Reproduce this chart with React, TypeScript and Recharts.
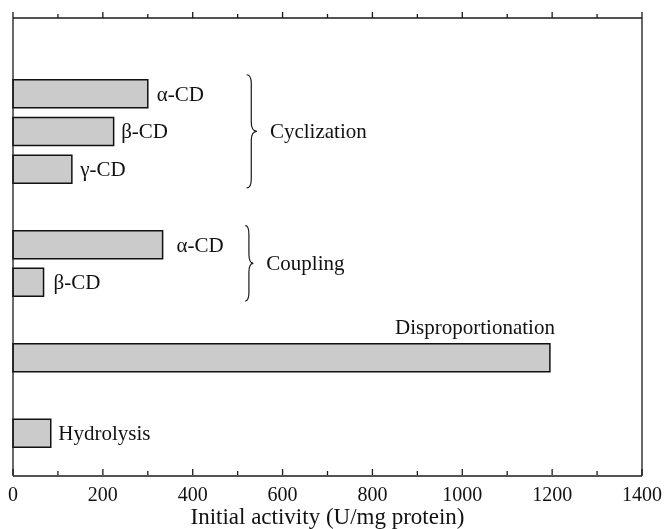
import React from 'react';
import { BarChart, Bar, XAxis, YAxis, LabelList, ReferenceArea, ReferenceLine } from 'recharts';

// ---- data ----
const categories = ['gap0', 'cyc-a', 'cyc-b', 'cyc-g', 'gap1', 'cpl-a', 'cpl-b', 'gap2', 'disp', 'gap3', 'hyd'];
const barLabels = ['', 'α-CD', 'β-CD', 'γ-CD', '', 'α-CD', 'β-CD', '', 'Disproportionation', '', 'Hydrolysis'];
const activity: (number | null)[] = [null, 300, 224, 131, null, 333, 68, null, 1195, null, 84];
const xTicks = [0, 100, 200, 300, 400, 500, 600, 700, 800, 900, 1000, 1100, 1200, 1300, 1400];
const groupNames = ['Cyclization', 'Coupling'];
const groupFrom = ['cyc-a', 'cpl-a'];
const groupTo = ['cyc-g', 'cpl-b'];
const xTitle = 'Initial activity (U/mg protein)';

// ---- styling (positions kept outside data) ----
const FONT = '"Liberation Serif", "Times New Roman", serif';
const FS = 21;
const TFS = 20;
const TITLE_FS = 23;
const INK = '#1a1a1a';
const labelDx: Record<string, number> = { 'cyc-a': 9, 'cyc-b': 7.5, 'cyc-g': 8.5, 'cpl-a': 14, 'cpl-b': 10, hyd: 7.5 };
const braceX1 = [520, 517];
const braceX2 = [543, 535];

const data = categories.map((c, i) => ({ cat: c, value: activity[i], label: barLabels[i] }));
const labelOf = (cat: string) => barLabels[categories.indexOf(cat)];

const BottomTick = (props: any) => {
  const { x, y, payload } = props;
  const major = payload.value % 200 === 0;
  const base = y - 1;
  return (
    <g>
      <line x1={x} x2={x} y1={base} y2={base - (major ? 6 : 4)} stroke={INK} strokeWidth={1.3} />
      {major && (
        <text x={x} y={base + 26} textAnchor="middle" fontFamily={FONT} fontSize={TFS} fill="#111">
          {payload.value}
        </text>
      )}
    </g>
  );
};

const topTickShape = (v: number) => (p: any) => {
  const top = Math.min(p.y1, p.y2);
  const len = v % 200 === 0 ? 6 : 4;
  return <line x1={p.x1} x2={p.x1} y1={top} y2={top - len} stroke={INK} strokeWidth={1.3} />;
};

const BarLabel = (props: any) => {
  const { x, y, width, height, value } = props;
  const cat = String(value);
  const text = labelOf(cat);
  if (!text) return null;
  if (cat === 'disp') {
    return (
      <text x={x + width + 5} y={y - 10} textAnchor="end" fontFamily={FONT} fontSize={FS} fill="#111">
        {text}
      </text>
    );
  }
  return (
    <text x={x + width + (labelDx[cat] ?? 8)} y={y + height / 2 + 7} fontFamily={FONT} fontSize={FS} fill="#111">
      {text}
    </text>
  );
};

const makeBrace = (name: string) => (props: any) => {
  const { x, y, width, height } = props;
  const x0 = x;
  const xm = x + width * 0.45;
  const xt = x + width;
  const y0 = y;
  const y1 = y + height;
  const ym = y + height / 2;
  const r = 9;
  const path = `M ${x0} ${y0} Q ${xm} ${y0} ${xm} ${y0 + r} L ${xm} ${ym - r} Q ${xm} ${ym} ${xt} ${ym} Q ${xm} ${ym} ${xm} ${ym + r} L ${xm} ${y1 - r} Q ${xm} ${y1} ${x0} ${y1}`;
  return (
    <g>
      <path d={path} fill="none" stroke={INK} strokeWidth={1.2} />
      <text x={xt + 13} y={ym + 7} fontFamily={FONT} fontSize={FS} fill="#111">
        {name}
      </text>
    </g>
  );
};

export default function App() {
  return (
    <div style={{ position: 'fixed', left: 8, top: 8, width: 657, height: 521, overflow: 'visible' }}>
      <style>{'.recharts-wrapper, svg.recharts-surface { overflow: visible !important; }'}</style>
      <BarChart
        width={657}
        height={521}
        data={data}
        layout="vertical"
        margin={{ top: 9, right: 22, bottom: 52, left: 4 }}
        barCategoryGap={0}
      >
        <XAxis
          xAxisId="bottom"
          type="number"
          orientation="bottom"
          domain={[0, 1400]}
          ticks={xTicks}
          interval={0}
          height={1}
          tickSize={0}
          tickMargin={0}
          tickLine={false}
          axisLine={{ stroke: INK, strokeWidth: 1.3 }}
          tick={<BottomTick />}
          label={{
            value: xTitle,
            content: (p: any) => {
              const vb = p.viewBox;
              return (
                <text x={vb.x + vb.width / 2} y={vb.y + 48} textAnchor="middle" fontFamily={FONT} fontSize={TITLE_FS} fill="#111">
                  {xTitle}
                </text>
              );
            },
          }}
        />
        <XAxis
          xAxisId="top"
          type="number"
          orientation="top"
          domain={[0, 1400]}
          allowDataOverflow
          ticks={xTicks}
          interval={0}
          height={1}
          tickSize={0}
          tickMargin={0}
          tickLine={false}
          tick={false}
          axisLine={{ stroke: INK, strokeWidth: 1.3 }}
        />
        <YAxis
          yAxisId="left"
          type="category"
          dataKey="cat"
          width={1}
          tick={false}
          tickLine={false}
          axisLine={{ stroke: INK, strokeWidth: 1.3 }}
          padding={{ top: 19, bottom: 24 }}
        />
        <YAxis
          yAxisId="right"
          orientation="right"
          type="category"
          dataKey="cat"
          width={1}
          tick={false}
          tickLine={false}
          axisLine={{ stroke: INK, strokeWidth: 1.3 }}
          padding={{ top: 19, bottom: 24 }}
        />
        <Bar
          dataKey="value"
          xAxisId="bottom"
          yAxisId="left"
          fill="#cbcbcb"
          stroke="#111"
          strokeWidth={1.5}
          barSize={28}
          isAnimationActive={false}
        >
          <LabelList dataKey="cat" content={<BarLabel />} />
        </Bar>
        {xTicks.map((v) => (
          <ReferenceLine
            key={'top-' + v}
            xAxisId="bottom"
            yAxisId="left"
            x={v}
            ifOverflow="extendDomain"
            shape={topTickShape(v)}
          />
        ))}
        {groupNames.map((g, i) => (
          <ReferenceArea
            key={g}
            xAxisId="bottom"
            yAxisId="left"
            x1={braceX1[i]}
            x2={braceX2[i]}
            y1={groupFrom[i]}
            y2={groupTo[i]}
            shape={makeBrace(g)}
          />
        ))}
      </BarChart>
    </div>
  );
}
